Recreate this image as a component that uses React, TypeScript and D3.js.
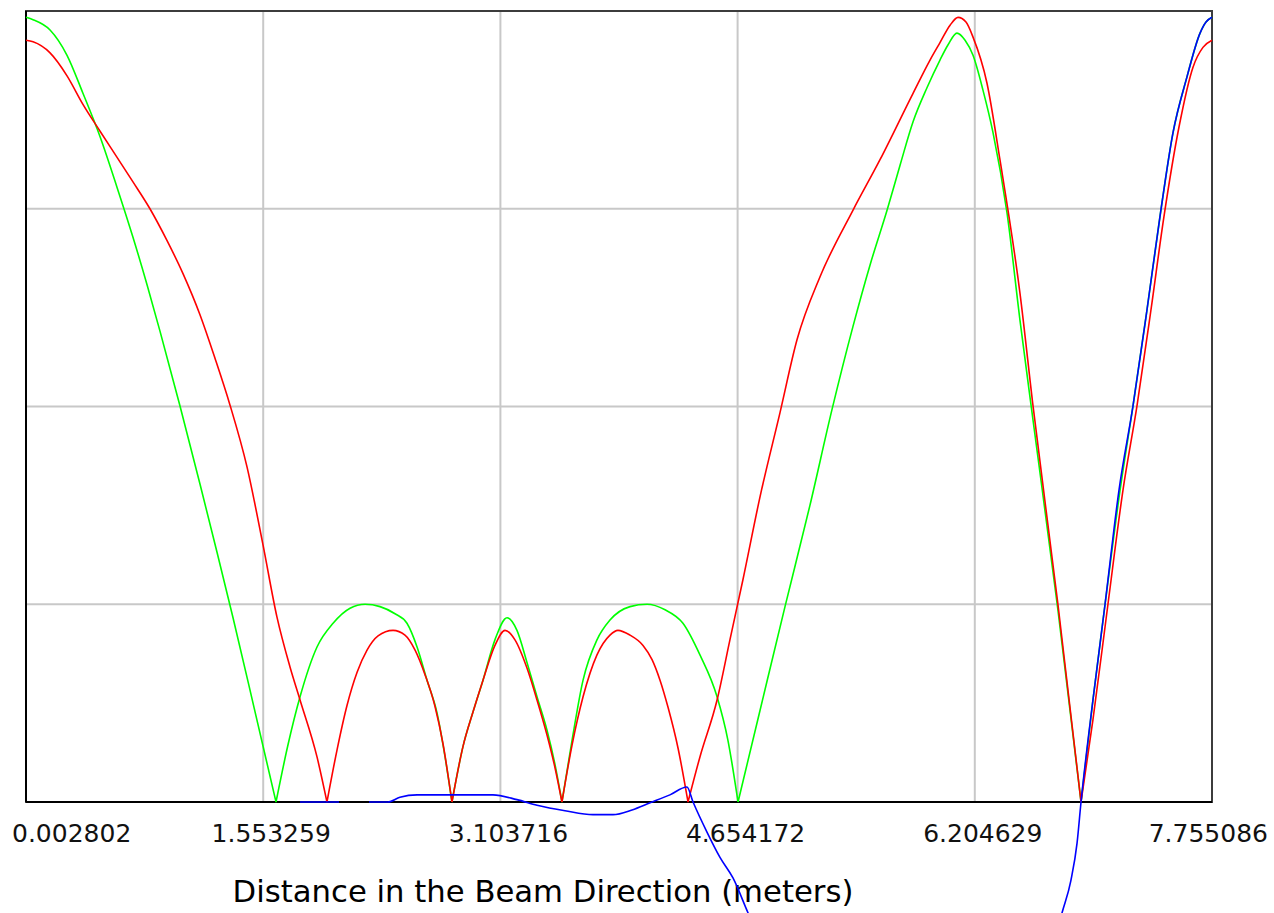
import React, { useEffect, useRef } from "react";
import * as d3 from "d3";

/** Tick values along the beam direction (meters). */
const distanceTicks = [0.002802, 1.553259, 3.103716, 4.654172, 6.204629, 7.755086];

/** Horizontal grid levels (the value axis has no labels). */
const levelTicks = [0.25, 0.5, 0.75];

/** Green series. */
const greenDist = [
  0.003, 0.049, 0.16, 0.271, 0.375, 0.487, 0.598, 0.702, 0.794, 0.879, 1.009, 1.14, 1.251, 1.356, 1.5, 1.637,
  1.715, 1.794, 1.905, 2.01, 2.121, 2.219, 2.317, 2.415, 2.493, 2.559, 2.624, 2.689, 2.742, 2.787,
  2.859, 2.925, 2.99, 3.068, 3.147, 3.212, 3.278, 3.343, 3.408, 3.461, 3.506,
  3.572, 3.644, 3.735, 3.82, 3.951, 4.062, 4.18, 4.297, 4.408, 4.52, 4.591, 4.657,
  4.801, 4.964, 5.127, 5.271, 5.408, 5.52, 5.631, 5.716, 5.801, 5.892, 5.977, 6.029, 6.088, 6.141, 6.193, 6.258,
  6.324, 6.415, 6.5, 6.585, 6.748, 6.899,
  6.977, 7.056, 7.154, 7.239, 7.33, 7.415, 7.5, 7.592, 7.677, 7.716, 7.755,
];
const greenLevel = [
  0.992, 0.989, 0.976, 0.944, 0.896, 0.841, 0.777, 0.714, 0.654, 0.595, 0.501, 0.402, 0.316, 0.233, 0.114, 0,
  0.072, 0.133, 0.196, 0.226, 0.245, 0.25, 0.247, 0.238, 0.226, 0.196, 0.154, 0.113, 0.057, 0,
  0.07, 0.114, 0.154, 0.205, 0.233, 0.217, 0.176, 0.133, 0.091, 0.047, 0,
  0.078, 0.154, 0.205, 0.23, 0.247, 0.25, 0.243, 0.226, 0.186, 0.133, 0.078, 0,
  0.116, 0.247, 0.375, 0.496, 0.601, 0.679, 0.748, 0.805, 0.86, 0.903, 0.938, 0.957, 0.972, 0.963, 0.944, 0.9,
  0.846, 0.745, 0.609, 0.483, 0.243, 0,
  0.129, 0.25, 0.394, 0.501, 0.622, 0.74, 0.846, 0.917, 0.972, 0.986, 0.992,
];

/** Red series. */
const redDist = [
  0.003, 0.049, 0.16, 0.271, 0.375, 0.487, 0.598, 0.702, 0.813, 0.924, 1.029, 1.14, 1.238, 1.336, 1.447, 1.552,
  1.643, 1.728, 1.794, 1.905, 1.97,
  2.036, 2.101, 2.167, 2.232, 2.304, 2.402, 2.48, 2.546, 2.611, 2.676, 2.729, 2.787,
  2.859, 2.925, 2.99, 3.068, 3.134, 3.199, 3.278, 3.343, 3.408, 3.461, 3.506,
  3.572, 3.644, 3.735, 3.82, 3.872, 3.951, 4.036, 4.095, 4.147, 4.199, 4.265, 4.33,
  4.408, 4.52, 4.604, 4.689, 4.801, 4.931, 5.042, 5.193, 5.408, 5.585, 5.801, 5.912, 5.977, 6.043, 6.095, 6.147,
  6.193, 6.284, 6.369, 6.5, 6.585, 6.748, 6.899,
  6.977, 7.075, 7.173, 7.265, 7.356, 7.441, 7.539, 7.631, 7.696, 7.755,
];
const redLevel = [
  0.963, 0.961, 0.947, 0.918, 0.882, 0.848, 0.815, 0.784, 0.75, 0.71, 0.668, 0.616, 0.561, 0.502, 0.424, 0.325,
  0.234, 0.171, 0.129, 0.057, 0,
  0.066, 0.122, 0.164, 0.192, 0.21, 0.217, 0.211, 0.192, 0.161, 0.121, 0.073, 0,
  0.07, 0.114, 0.154, 0.198, 0.217, 0.205, 0.169, 0.129, 0.085, 0.043, 0,
  0.072, 0.133, 0.186, 0.211, 0.217, 0.211, 0.198, 0.18, 0.154, 0.12, 0.068, 0,
  0.057, 0.129, 0.205, 0.281, 0.386, 0.492, 0.584, 0.664, 0.748, 0.812, 0.896, 0.938, 0.96, 0.982, 0.992, 0.986,
  0.967, 0.909, 0.812, 0.643, 0.501, 0.25, 0,
  0.104, 0.25, 0.394, 0.501, 0.622, 0.74, 0.853, 0.929, 0.954, 0.963,
];

/** Blue series (NaN marks a break in the line). */
const blueDist = [
  1.794, 2.049, NaN,
  2.245, 2.369, 2.447, 2.559, 2.774, 3.055, 3.212, 3.343, 3.526, 3.709, 3.84, 3.964, 4.082, 4.212, 4.323,
  4.363, 4.454, 4.539, 4.624, 4.722, 4.801, NaN,
  6.729, 6.775, 6.833, 6.873, 6.899, 6.977, 7.056, 7.147, 7.239, 7.33, 7.415, 7.5, 7.592, 7.677, 7.716, 7.755,
];
const blueLevel = [
  0, 0, NaN,
  0, 0, 0.006, 0.009, 0.009, 0.009, 0.003, -0.004, -0.011, -0.016, -0.016, -0.01, -0.001, 0.009, 0.019,
  0, -0.038, -0.07, -0.096, -0.14, -0.174, NaN,
  -0.174, -0.14, -0.099, -0.052, 0, 0.129, 0.25, 0.394, 0.501, 0.622, 0.74, 0.846, 0.917, 0.972, 0.986, 0.992,
];

const xTitle = "Distance in the Beam Direction (meters)";

/** Chart dimensions. */
const WIDTH = 1274,
  HEIGHT = 913;
const margin = { top: 11, right: 62, bottom: 111, left: 26 };
const FONT = "'DejaVu Sans', Verdana, sans-serif";

/** Splits a series at its zeros so each lobe keeps a sharp cusp. */
function lobes(dist: number[], level: number[]) {
  const segs: [number, number][][] = [];
  let cur: [number, number][] = [];
  dist.forEach((d, i) => {
    cur.push([d, level[i]]);
    if (level[i] === 0 && cur.length > 1) {
      segs.push(cur);
      cur = [[d, 0]];
    }
  });
  if (cur.length > 1) segs.push(cur);
  return segs;
}

export default function App() {
  const ref = useRef<SVGSVGElement>(null);

  useEffect(() => {
    const svg = d3.select(ref.current);
    svg.selectAll("*").remove();

    const innerW = WIDTH - margin.left - margin.right;
    const innerH = HEIGHT - margin.top - margin.bottom;
    const bottom = margin.top + innerH;

    const x = d3
      .scaleLinear()
      .domain([distanceTicks[0], distanceTicks[distanceTicks.length - 1]])
      .range([margin.left, margin.left + innerW]);
    const y = d3.scaleLinear().domain([0, 1]).range([bottom, margin.top]);

    // Grid
    const grid = svg.append("g").attr("stroke", "#c8c8c8").attr("stroke-width", 2);
    grid
      .selectAll("line.v")
      .data(distanceTicks.slice(1, -1))
      .enter()
      .append("line")
      .attr("x1", (d) => x(d))
      .attr("x2", (d) => x(d))
      .attr("y1", margin.top)
      .attr("y2", bottom);
    grid
      .selectAll("line.h")
      .data(levelTicks)
      .enter()
      .append("line")
      .attr("x1", margin.left)
      .attr("x2", margin.left + innerW)
      .attr("y1", (d) => y(d))
      .attr("y2", (d) => y(d));

    // Frame
    svg
      .append("rect")
      .attr("x", margin.left)
      .attr("y", margin.top)
      .attr("width", innerW)
      .attr("height", innerH)
      .attr("fill", "none")
      .attr("stroke", "#3c3c3c")
      .attr("stroke-width", 2);
    svg
      .append("line")
      .attr("x1", margin.left)
      .attr("x2", margin.left + innerW)
      .attr("y1", bottom)
      .attr("y2", bottom)
      .attr("stroke", "#000")
      .attr("stroke-width", 2);
    svg
      .append("line")
      .attr("x1", margin.left)
      .attr("x2", margin.left)
      .attr("y1", margin.top)
      .attr("y2", bottom)
      .attr("stroke", "#000")
      .attr("stroke-width", 2);

    // Tick labels, kept inside the picture
    const labels = svg
      .append("g")
      .attr("font-family", FONT)
      .attr("font-size", 25)
      .attr("fill", "#111");
    distanceTicks.forEach((t) => {
      const txt = labels
        .append("text")
        .attr("y", bottom + 40)
        .text(d3.format(".6f")(t));
      const w = (txt.node() as SVGTextElement).getComputedTextLength();
      let left = x(t) + 8 - w / 2;
      left = Math.max(12, Math.min(WIDTH - 6 - w, left));
      txt.attr("x", left);
    });

    // Axis title
    svg
      .append("text")
      .attr("x", 543)
      .attr("y", bottom + 100)
      .attr("text-anchor", "middle")
      .attr("font-family", FONT)
      .attr("font-size", 30.7)
      .attr("fill", "#000")
      .text(xTitle);

    // Lines
    const line = d3
      .line<[number, number]>()
      .defined((d) => !isNaN(d[1]))
      .x((d) => x(d[0]))
      .y((d) => y(d[1]))
      .curve(d3.curveMonotoneX);

    const series = [
      { dist: greenDist, level: greenLevel, color: "#00ff00" },
      { dist: redDist, level: redLevel, color: "#ff0000" },
    ];
    series.forEach((s) => {
      svg
        .append("path")
        .attr("d", lobes(s.dist, s.level).map((seg) => line(seg)).join(""))
        .attr("fill", "none")
        .attr("stroke", s.color)
        .attr("stroke-width", 1.6);
    });

    const bluePts = blueDist.map((d, i) => [d, blueLevel[i]] as [number, number]);
    svg
      .append("path")
      .attr("d", line(bluePts))
      .attr("fill", "none")
      .attr("stroke", "#0000ff")
      .attr("stroke-width", 1.6);
  }, []);

  return (
    <svg
      ref={ref}
      width={WIDTH}
      height={HEIGHT}
      style={{ position: "absolute", left: 0, top: 0, background: "#fff" }}
    />
  );
}
